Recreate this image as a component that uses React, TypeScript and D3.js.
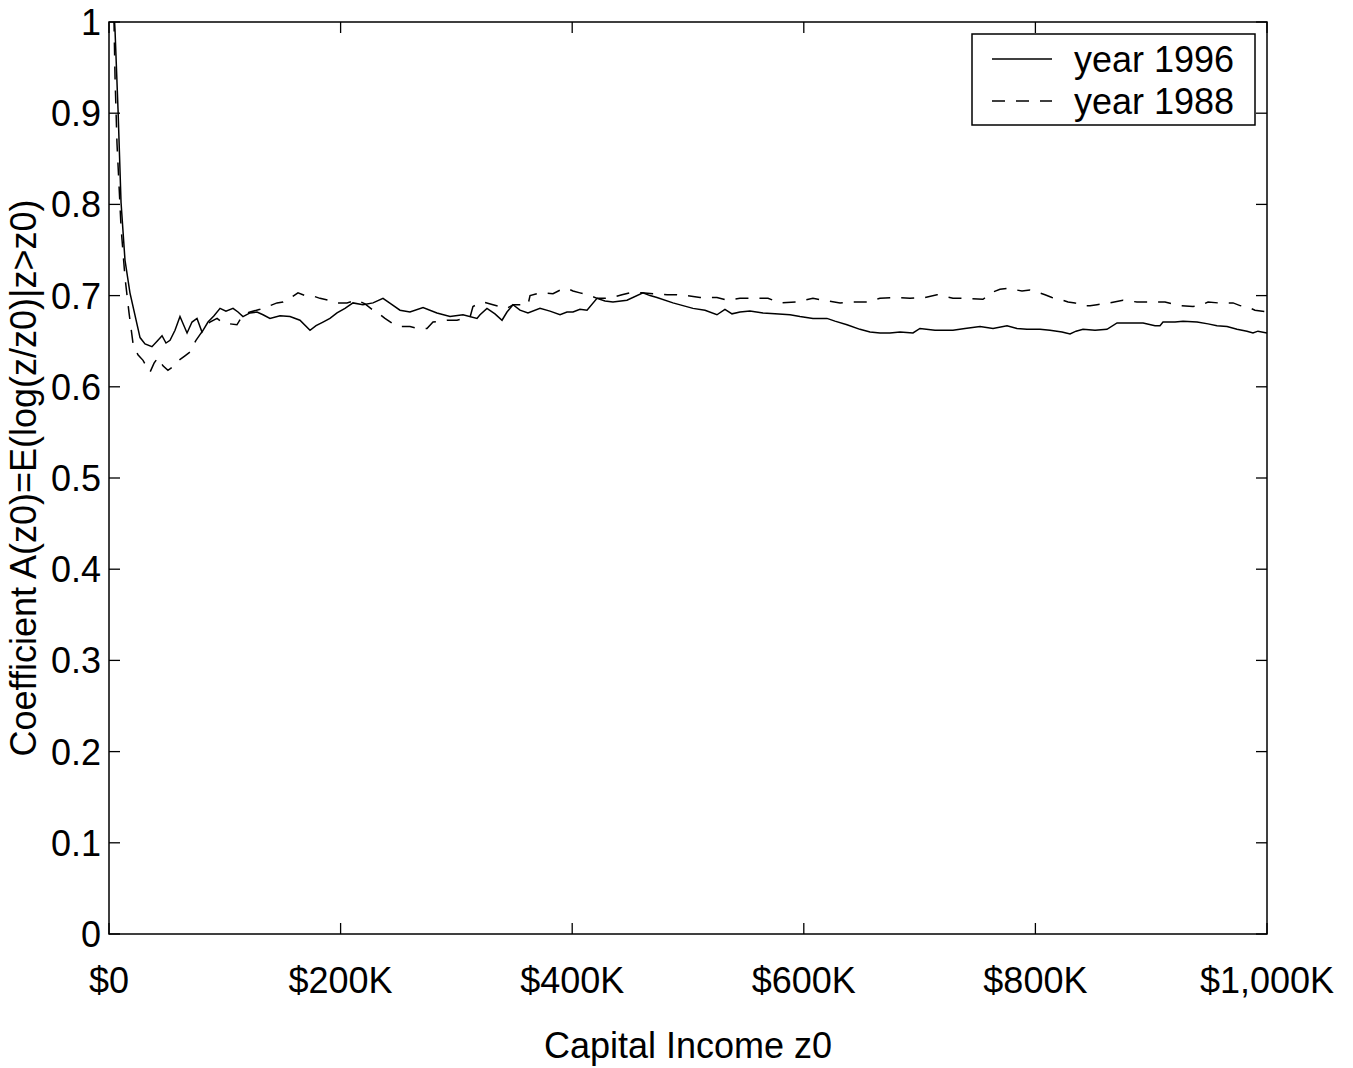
import React from "react";
import * as d3 from "d3";

const W = 1353;
const H = 1068;
const M = { left: 109, right: 1267, top: 22, bottom: 934 };

const xTicks = [0, 200, 400, 600, 800, 1000];
const xTickLabels = ["$0", "$200K", "$400K", "$600K", "$800K", "$1,000K"];
const yTicks = [0, 0.1, 0.2, 0.3, 0.4, 0.5, 0.6, 0.7, 0.8, 0.9, 1];
const yTickLabels = ["0", "0.1", "0.2", "0.3", "0.4", "0.5", "0.6", "0.7", "0.8", "0.9", "1"];

// Capital income z0 (thousands of dollars) and coefficient, year 1996 (solid)
const x1996 = [3.5, 5.2, 7.8, 10.4, 13.8, 18.1, 25.0, 26.8, 31.1, 37.1, 41.5, 45.8, 49.2, 52.7, 57.0, 61.3, 67.4, 71.7, 76.0, 80.3, 85.5, 90.7, 95.9, 101.0, 107.1, 111.4, 115.7, 121.8, 127.8, 133.0, 139.0, 147.7, 156.3, 164.9, 173.6, 178.8, 184.8, 190.8, 196.9, 203.8, 210.7, 219.3, 228.0, 236.6, 244.4, 251.3, 259.9, 271.2, 283.2, 294.5, 305.7, 317.8, 320.4, 326.4, 333.3, 339.4, 343.7, 348.9, 354.9, 361.8, 372.2, 380.8, 389.5, 395.5, 400.7, 406.7, 412.8, 421.4, 428.3, 435.2, 447.3, 461.1, 467.2, 473.2, 487.0, 504.3, 514.7, 525.0, 531.9, 538.0, 544.9, 553.5, 564.8, 575.1, 588.1, 596.7, 607.9, 620.0, 626.9, 637.3, 648.5, 657.2, 665.8, 674.4, 683.1, 694.3, 700.3, 713.3, 728.8, 739.2, 752.2, 763.4, 775.5, 784.1, 792.7, 804.0, 812.6, 823.0, 829.9, 835.1, 841.1, 851.5, 861.8, 870.5, 881.7, 893.0, 903.3, 907.6, 910.2, 920.6, 927.5, 939.6, 949.1, 956.8, 965.5, 974.1, 982.7, 987.9, 992.2, 1000];
const y1996 = [1.03, 0.991, 0.904, 0.802, 0.739, 0.703, 0.664, 0.654, 0.647, 0.644, 0.650, 0.656, 0.648, 0.651, 0.662, 0.677, 0.659, 0.671, 0.675, 0.660, 0.671, 0.678, 0.686, 0.683, 0.686, 0.682, 0.677, 0.681, 0.682, 0.679, 0.675, 0.678, 0.677, 0.673, 0.662, 0.667, 0.671, 0.675, 0.681, 0.686, 0.692, 0.690, 0.692, 0.697, 0.690, 0.684, 0.682, 0.687, 0.681, 0.677, 0.679, 0.675, 0.679, 0.686, 0.680, 0.673, 0.682, 0.690, 0.684, 0.681, 0.686, 0.683, 0.679, 0.682, 0.682, 0.685, 0.684, 0.697, 0.694, 0.693, 0.695, 0.703, 0.700, 0.698, 0.692, 0.686, 0.684, 0.679, 0.685, 0.680, 0.682, 0.683, 0.681, 0.680, 0.679, 0.677, 0.675, 0.675, 0.672, 0.668, 0.663, 0.660, 0.659, 0.659, 0.660, 0.659, 0.664, 0.662, 0.662, 0.664, 0.666, 0.664, 0.667, 0.664, 0.663, 0.663, 0.662, 0.660, 0.658, 0.661, 0.663, 0.662, 0.663, 0.670, 0.670, 0.670, 0.667, 0.667, 0.671, 0.671, 0.672, 0.671, 0.669, 0.667, 0.666, 0.663, 0.661, 0.659, 0.661, 0.659];

// year 1988 (dashed)
const x1988 = [2.6, 4.3, 5.2, 6.9, 10.4, 13.8, 17.3, 20.7, 25.0, 29.4, 32.8, 35.4, 38.9, 42.3, 46.6, 50.9, 55.3, 60.4, 65.6, 69.9, 75.1, 81.2, 87.2, 93.3, 98.4, 104.5, 110.5, 115.7, 121.8, 130.4, 139.0, 145.1, 150.3, 156.3, 163.2, 169.3, 175.3, 182.2, 189.1, 196.9, 205.5, 214.2, 221.1, 227.1, 231.4, 238.3, 245.3, 251.3, 259.9, 266.8, 274.6, 279.8, 285.8, 291.9, 300.5, 307.4, 311.7, 314.3, 318.7, 323.0, 331.6, 337.7, 343.7, 348.9, 354.9, 361.8, 363.6, 369.6, 374.8, 383.4, 389.5, 395.5, 400.7, 406.7, 415.4, 421.4, 428.3, 435.2, 443.0, 449.9, 460.3, 469.8, 481.9, 490.5, 499.1, 510.4, 525.0, 533.7, 544.9, 556.1, 569.1, 579.4, 594.1, 601.0, 607.9, 616.6, 631.3, 639.9, 654.6, 665.8, 680.5, 691.7, 704.7, 715.0, 728.8, 740.9, 754.7, 763.4, 769.4, 776.3, 788.4, 795.3, 801.4, 808.3, 814.3, 821.2, 828.2, 834.2, 840.2, 847.2, 853.2, 864.4, 875.6, 887.7, 899.0, 911.9, 924.9, 936.1, 942.2, 949.1, 957.7, 970.7, 976.7, 982.7, 989.6, 1000];
const y1988 = [1.03, 1.002, 0.940, 0.867, 0.775, 0.720, 0.681, 0.648, 0.635, 0.629, 0.621, 0.616, 0.626, 0.632, 0.623, 0.618, 0.622, 0.629, 0.634, 0.638, 0.651, 0.662, 0.671, 0.675, 0.670, 0.669, 0.668, 0.679, 0.682, 0.685, 0.689, 0.692, 0.693, 0.697, 0.703, 0.700, 0.700, 0.697, 0.695, 0.692, 0.692, 0.695, 0.691, 0.685, 0.682, 0.675, 0.669, 0.666, 0.666, 0.664, 0.664, 0.671, 0.672, 0.673, 0.673, 0.675, 0.676, 0.688, 0.691, 0.693, 0.690, 0.688, 0.686, 0.690, 0.690, 0.690, 0.700, 0.702, 0.703, 0.702, 0.706, 0.708, 0.705, 0.703, 0.700, 0.697, 0.697, 0.698, 0.701, 0.703, 0.703, 0.702, 0.701, 0.701, 0.700, 0.698, 0.698, 0.695, 0.697, 0.697, 0.697, 0.692, 0.693, 0.695, 0.697, 0.695, 0.692, 0.693, 0.693, 0.697, 0.698, 0.697, 0.698, 0.701, 0.697, 0.697, 0.696, 0.704, 0.707, 0.708, 0.705, 0.706, 0.704, 0.701, 0.698, 0.696, 0.693, 0.692, 0.689, 0.689, 0.690, 0.692, 0.695, 0.693, 0.693, 0.693, 0.689, 0.688, 0.689, 0.693, 0.692, 0.692, 0.689, 0.688, 0.684, 0.682];

const seriesNames = ["year 1996", "year 1988"];

const FONT = "'Liberation Sans', Arial, Helvetica, sans-serif";
const FS = 36;
const DASH = "13 11";

export default function App() {
  const x = d3.scaleLinear().domain([0, 1000]).range([M.left, M.right]);
  const y = d3.scaleLinear().domain([0, 1]).range([M.bottom, M.top]);
  const line = d3
    .line<[number, number]>()
    .x((d) => x(d[0]))
    .y((d) => y(d[1]));
  const d1996 = line(x1996.map((v, i) => [v, y1996[i]] as [number, number])) || "";
  const d1988 = line(x1988.map((v, i) => [v, y1988[i]] as [number, number])) || "";
  const tl = 11;

  const legX = 972, legY = 34, legW = 283, legH = 91;

  return (
    <svg
      width={W}
      height={H}
      style={{ position: "absolute", left: 0, top: 0, background: "#fff" }}
      fontFamily={FONT}
    >
      <rect x={0} y={0} width={W} height={H} fill="#fff" />
      <defs>
        <clipPath id="plotclip">
          <rect x={M.left} y={M.top} width={M.right - M.left} height={M.bottom - M.top} />
        </clipPath>
      </defs>
      <g clipPath="url(#plotclip)" fill="none" stroke="#000" strokeWidth={1.5}>
        <path d={d1988} strokeDasharray={DASH} />
        <path d={d1996} />
      </g>
      {/* axes box */}
      <rect
        x={M.left}
        y={M.top}
        width={M.right - M.left}
        height={M.bottom - M.top}
        fill="none"
        stroke="#000"
        strokeWidth={1.5}
      />
      {xTicks.map((t, i) => (
        <g key={"xt" + i}>
          <line x1={x(t)} x2={x(t)} y1={M.bottom} y2={M.bottom - tl} stroke="#000" strokeWidth={1.3} />
          <line x1={x(t)} x2={x(t)} y1={M.top} y2={M.top + tl} stroke="#000" strokeWidth={1.3} />
          <text x={x(t)} y={993} textAnchor="middle" fontSize={FS} fill="#000">
            {xTickLabels[i]}
          </text>
        </g>
      ))}
      {yTicks.map((t, i) => (
        <g key={"yt" + i}>
          <line x1={M.left} x2={M.left + tl} y1={y(t)} y2={y(t)} stroke="#000" strokeWidth={1.3} />
          <line x1={M.right} x2={M.right - tl} y1={y(t)} y2={y(t)} stroke="#000" strokeWidth={1.3} />
          <text x={101} y={y(t) + 13} textAnchor="end" fontSize={FS} fill="#000">
            {yTickLabels[i]}
          </text>
        </g>
      ))}
      <text x={(M.left + M.right) / 2} y={1058} textAnchor="middle" fontSize={FS} fill="#000">
        Capital Income z0
      </text>
      <text
        transform={`translate(36, ${(M.top + M.bottom) / 2}) rotate(-90)`}
        textAnchor="middle"
        fontSize={FS}
        fill="#000"
      >
        Coefficient A(z0)=E(log(z/z0)|z&gt;z0)
      </text>
      {/* legend */}
      <g>
        <rect x={legX} y={legY} width={legW} height={legH} fill="#fff" stroke="#000" strokeWidth={1.5} />
        <line x1={992} x2={1052} y1={59} y2={59} stroke="#000" strokeWidth={1.5} />
        <line x1={992} x2={1052} y1={101} y2={101} stroke="#000" strokeWidth={1.5} strokeDasharray={DASH} />
        <text x={1074} y={72} fontSize={FS} fill="#000">{seriesNames[0]}</text>
        <text x={1074} y={114} fontSize={FS} fill="#000">{seriesNames[1]}</text>
      </g>
    </svg>
  );
}
